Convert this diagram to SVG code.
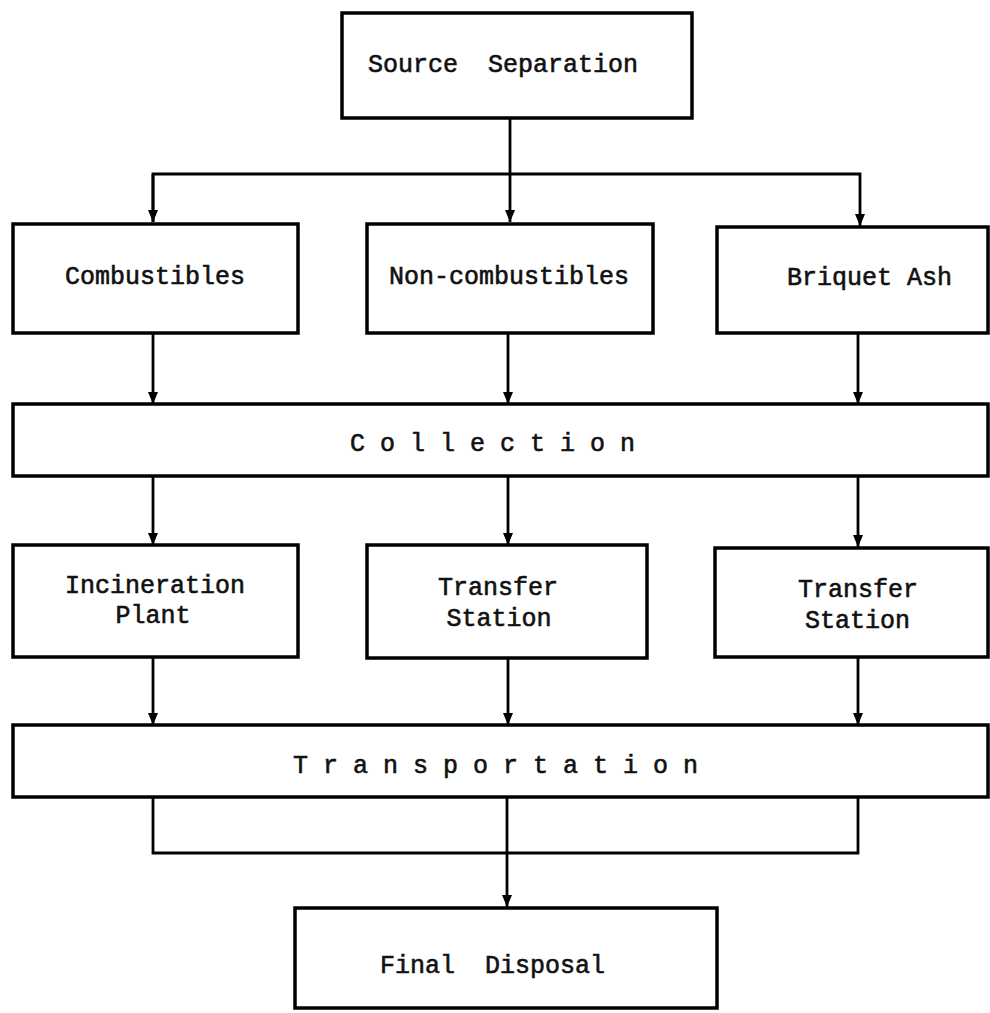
<svg xmlns="http://www.w3.org/2000/svg" width="990" height="1013" viewBox="0 0 990 1013">
<style>
.box{fill:#fff;stroke:#000;stroke-width:3.5}
.ln{fill:none;stroke:#000;stroke-width:2.8}
.t{font-family:"Liberation Mono","Courier New",monospace;font-size:25px;fill:#111;stroke:#111;stroke-width:0.6}
.m{text-anchor:middle}
</style>
<defs>
<marker id="ah" viewBox="0 0 12 10" refX="12" refY="5" markerWidth="12" markerHeight="10" markerUnits="userSpaceOnUse" orient="auto">
<path d="M0,0 L12,5 L0,10 z" fill="#000"/>
</marker>
</defs>
<rect width="990" height="1013" fill="#fff"/>
<g id="connectors">
<path class="ln" d="M510,118 V222" marker-end="url(#ah)"/>
<path class="ln" d="M153,222 V174 H860 V226" marker-end="url(#ah)"/>
<path class="ln" d="M153,174 V222" marker-end="url(#ah)"/>
<path class="ln" d="M153,333 V404" marker-end="url(#ah)"/>
<path class="ln" d="M508,333 V404" marker-end="url(#ah)"/>
<path class="ln" d="M858,333 V404" marker-end="url(#ah)"/>
<path class="ln" d="M153,476 V545" marker-end="url(#ah)"/>
<path class="ln" d="M508,476 V545" marker-end="url(#ah)"/>
<path class="ln" d="M858,476 V547" marker-end="url(#ah)"/>
<path class="ln" d="M153,657 V725" marker-end="url(#ah)"/>
<path class="ln" d="M508,658 V725" marker-end="url(#ah)"/>
<path class="ln" d="M858,657 V725" marker-end="url(#ah)"/>
<path class="ln" d="M153,797 V853 H858 V797"/>
<path class="ln" d="M507,797 V907" marker-end="url(#ah)"/>
</g>
<g id="source">
<rect class="box" x="342" y="13" width="350" height="105"/>
<text class="t m" x="503" y="72" xml:space="preserve">Source  Separation</text>
</g>
<g id="combustibles">
<rect class="box" x="13" y="224" width="285" height="109"/>
<text class="t m" x="155" y="284">Combustibles</text>
</g>
<g id="noncombustibles">
<rect class="box" x="367" y="224" width="286" height="109"/>
<text class="t m" x="509" y="284">Non-combustibles</text>
</g>
<g id="briquet">
<rect class="box" x="717" y="227" width="271" height="106"/>
<text class="t" x="787" y="285">Briquet Ash</text>
</g>
<g id="collection">
<rect class="box" x="13" y="404" width="975" height="72"/>
<text class="t" x="350" y="451" xml:space="preserve">C o l l e c t i o n</text>
</g>
<g id="incineration">
<rect class="box" x="13" y="545" width="285" height="112"/>
<text class="t m" x="155" y="593">Incineration</text>
<text class="t m" x="153" y="623">Plant</text>
</g>
<g id="transfer1">
<rect class="box" x="367" y="545" width="280" height="113"/>
<text class="t m" x="498" y="595">Transfer</text>
<text class="t m" x="499" y="626">Station</text>
</g>
<g id="transfer2">
<rect class="box" x="715" y="548" width="273" height="109"/>
<text class="t" x="798" y="597">Transfer</text>
<text class="t" x="805" y="628">Station</text>
</g>
<g id="transportation">
<rect class="box" x="13" y="725" width="975" height="72"/>
<text class="t" x="293" y="773" xml:space="preserve">T r a n s p o r t a t i o n</text>
</g>
<g id="final">
<rect class="box" x="295" y="908" width="422" height="100"/>
<text class="t" x="380" y="973" xml:space="preserve">Final  Disposal</text>
</g>
</svg>
